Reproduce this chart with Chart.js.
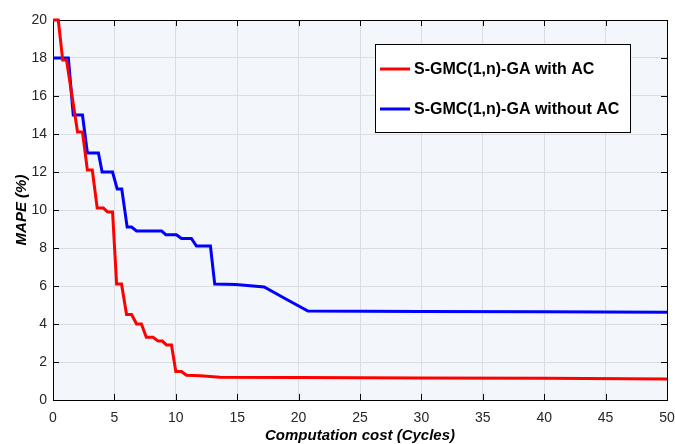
<!DOCTYPE html>
<html>
<head>
<meta charset="utf-8">
<script src="https://cdn.jsdelivr.net/npm/chart.js@4"></script>
<style>
  html, body { margin: 0; padding: 0; background: #fff; }
  #wrap { width: 675px; height: 444px; }
</style>
</head>
<body>
<div id="wrap"><canvas id="chart" width="675" height="444"></canvas></div>
<script>
// values
const redLabel = 'S-GMC(1,n)-GA with AC';
const redX = [0, 0.43, 0.79, 1.1, 2.0, 2.4, 2.8, 3.2, 3.6, 4.1, 4.45, 4.85, 5.18, 5.58, 5.99, 6.4, 6.8, 7.2, 7.6, 8.15, 8.56, 8.9, 9.24, 9.65, 10.0, 10.46, 10.87, 12.0, 13.6, 20, 30, 40, 50];
const redY = [20, 20, 17.9, 17.9, 14.1, 14.1, 12.1, 12.1, 10.1, 10.1, 9.9, 9.9, 6.1, 6.1, 4.5, 4.5, 4.0, 4.0, 3.3, 3.3, 3.1, 3.1, 2.9, 2.9, 1.5, 1.5, 1.3, 1.27, 1.2, 1.18, 1.16, 1.14, 1.1];

const blueLabel = 'S-GMC(1,n)-GA without AC';
const blueX = [0, 1.25, 1.65, 2.4, 2.8, 3.7, 4.0, 4.85, 5.23, 5.6, 6.04, 6.4, 6.8, 8.84, 9.19, 10.05, 10.46, 11.27, 11.68, 12.82, 13.17, 14.9, 17.2, 19.0, 20.76, 30, 40, 50];
const blueY = [18, 18, 15, 15, 13, 13, 12, 12, 11.1, 11.1, 9.1, 9.1, 8.9, 8.9, 8.7, 8.7, 8.5, 8.5, 8.1, 8.1, 6.1, 6.08, 5.95, 5.3, 4.68, 4.66, 4.64, 4.62];

const xTicks = [0, 5, 10, 15, 20, 25, 30, 35, 40, 45, 50];
const yTicks = [0, 2, 4, 6, 8, 10, 12, 14, 16, 18, 20];

const FONT = "'Liberation Sans', Arial, sans-serif";

function toPoints(xs, ys) {
    return xs.map(function (x, i) { return { x: x, y: ys[i] }; });
}

// MATLAB-ish frame: light plot background, black box, inward ticks, boxed legend
const framePlugin = {
    id: 'frame',
    beforeDraw(chart) {
        const a = chart.chartArea;
        const ctx = chart.ctx;
        ctx.save();
        ctx.fillStyle = '#F3F6FB';
        ctx.fillRect(a.left, a.top, a.right - a.left, a.bottom - a.top);
        ctx.restore();
    },
    beforeDatasetsDraw(chart) {
        const a = chart.chartArea;
        const ctx = chart.ctx;
        const xs = chart.scales.x, ys = chart.scales.y;
        ctx.save();
        ctx.strokeStyle = '#000';
        ctx.lineWidth = 1;
        ctx.beginPath();
        xTicks.forEach(function (v) {
            const px = Math.round(xs.getPixelForValue(v)) + 0.5;
            ctx.moveTo(px, a.bottom); ctx.lineTo(px, a.bottom - 6);
            ctx.moveTo(px, a.top); ctx.lineTo(px, a.top + 6);
        });
        yTicks.forEach(function (v) {
            const py = Math.round(ys.getPixelForValue(v)) + 0.5;
            ctx.moveTo(a.left, py); ctx.lineTo(a.left + 6, py);
            ctx.moveTo(a.right, py); ctx.lineTo(a.right - 6, py);
        });
        ctx.stroke();
        ctx.strokeRect(Math.round(a.left) + 0.5, Math.round(a.top) + 0.5,
            Math.round(a.right - a.left), Math.round(a.bottom - a.top));
        ctx.restore();
    },
    afterDraw(chart) {
        const ctx = chart.ctx;
        ctx.save();
        // legend
        const bx = 375.5, by = 44.5, bw = 255, bh = 88;
        ctx.fillStyle = '#fff';
        ctx.fillRect(bx, by, bw, bh);
        ctx.strokeStyle = '#000';
        ctx.lineWidth = 1;
        ctx.strokeRect(bx, by, bw, bh);
        ctx.font = 'bold 16px ' + FONT;
        ctx.textBaseline = 'middle';
        const rows = [69, 109];
        chart.data.datasets.forEach(function (ds, i) {
            ctx.strokeStyle = ds.borderColor;
            ctx.lineWidth = 3;
            ctx.beginPath();
            ctx.moveTo(380, rows[i]); ctx.lineTo(410, rows[i]);
            ctx.stroke();
            ctx.fillStyle = '#000';
            ctx.fillText(ds.label, 414, rows[i] + 1);
        });
        ctx.restore();
    }
};

new Chart(document.getElementById('chart'), {
    type: 'line',
    data: {
        datasets: [
            {
                label: redLabel,
                data: toPoints(redX, redY),
                borderColor: '#FF0000',
                borderWidth: 3,
                pointRadius: 0,
                tension: 0,
                fill: false,
                clip: 3
            },
            {
                label: blueLabel,
                data: toPoints(blueX, blueY),
                borderColor: '#0000FF',
                borderWidth: 3,
                pointRadius: 0,
                tension: 0,
                fill: false,
                clip: 3
            }
        ]
    },
    options: {
        responsive: false,
        animation: false,
        devicePixelRatio: 1,
        layout: { padding: { top: 20, right: 8, left: 0, bottom: 0 } },
        plugins: {
            legend: { display: false },
            tooltip: { enabled: false }
        },
        scales: {
            x: {
                type: 'linear',
                min: 0,
                max: 50,
                afterBuildTicks: function (s) { s.ticks = xTicks.map(function (v) { return { value: v }; }); },
                afterFit: function (s) { s.height = 44; s.paddingRight = 0; s.paddingLeft = 0; },
                grid: { color: '#DADDE2', drawTicks: false },
                border: { display: false },
                ticks: { color: '#262626', font: { family: FONT, size: 14 }, padding: 10, maxRotation: 0 },
                title: {
                    display: true,
                    text: 'Computation cost (Cycles)',
                    color: '#000',
                    font: { family: FONT, size: 15, weight: 'bold', style: 'italic' },
                    padding: { top: 0, bottom: -1 }
                }
            },
            y: {
                type: 'linear',
                min: 0,
                max: 20,
                afterBuildTicks: function (s) { s.ticks = yTicks.map(function (v) { return { value: v }; }); },
                afterFit: function (s) { s.width = 53; s.paddingTop = 0; s.paddingBottom = 0; },
                grid: { color: '#DADDE2', drawTicks: false },
                border: { display: false },
                ticks: { color: '#262626', font: { family: FONT, size: 14 }, padding: 6 },
                title: {
                    display: true,
                    text: 'MAPE (%)',
                    color: '#000',
                    font: { family: FONT, size: 15, weight: 'bold', style: 'italic' },
                    padding: { top: 13, bottom: 0 }
                }
            }
        }
    },
    plugins: [framePlugin]
});
</script>
</body>
</html>
